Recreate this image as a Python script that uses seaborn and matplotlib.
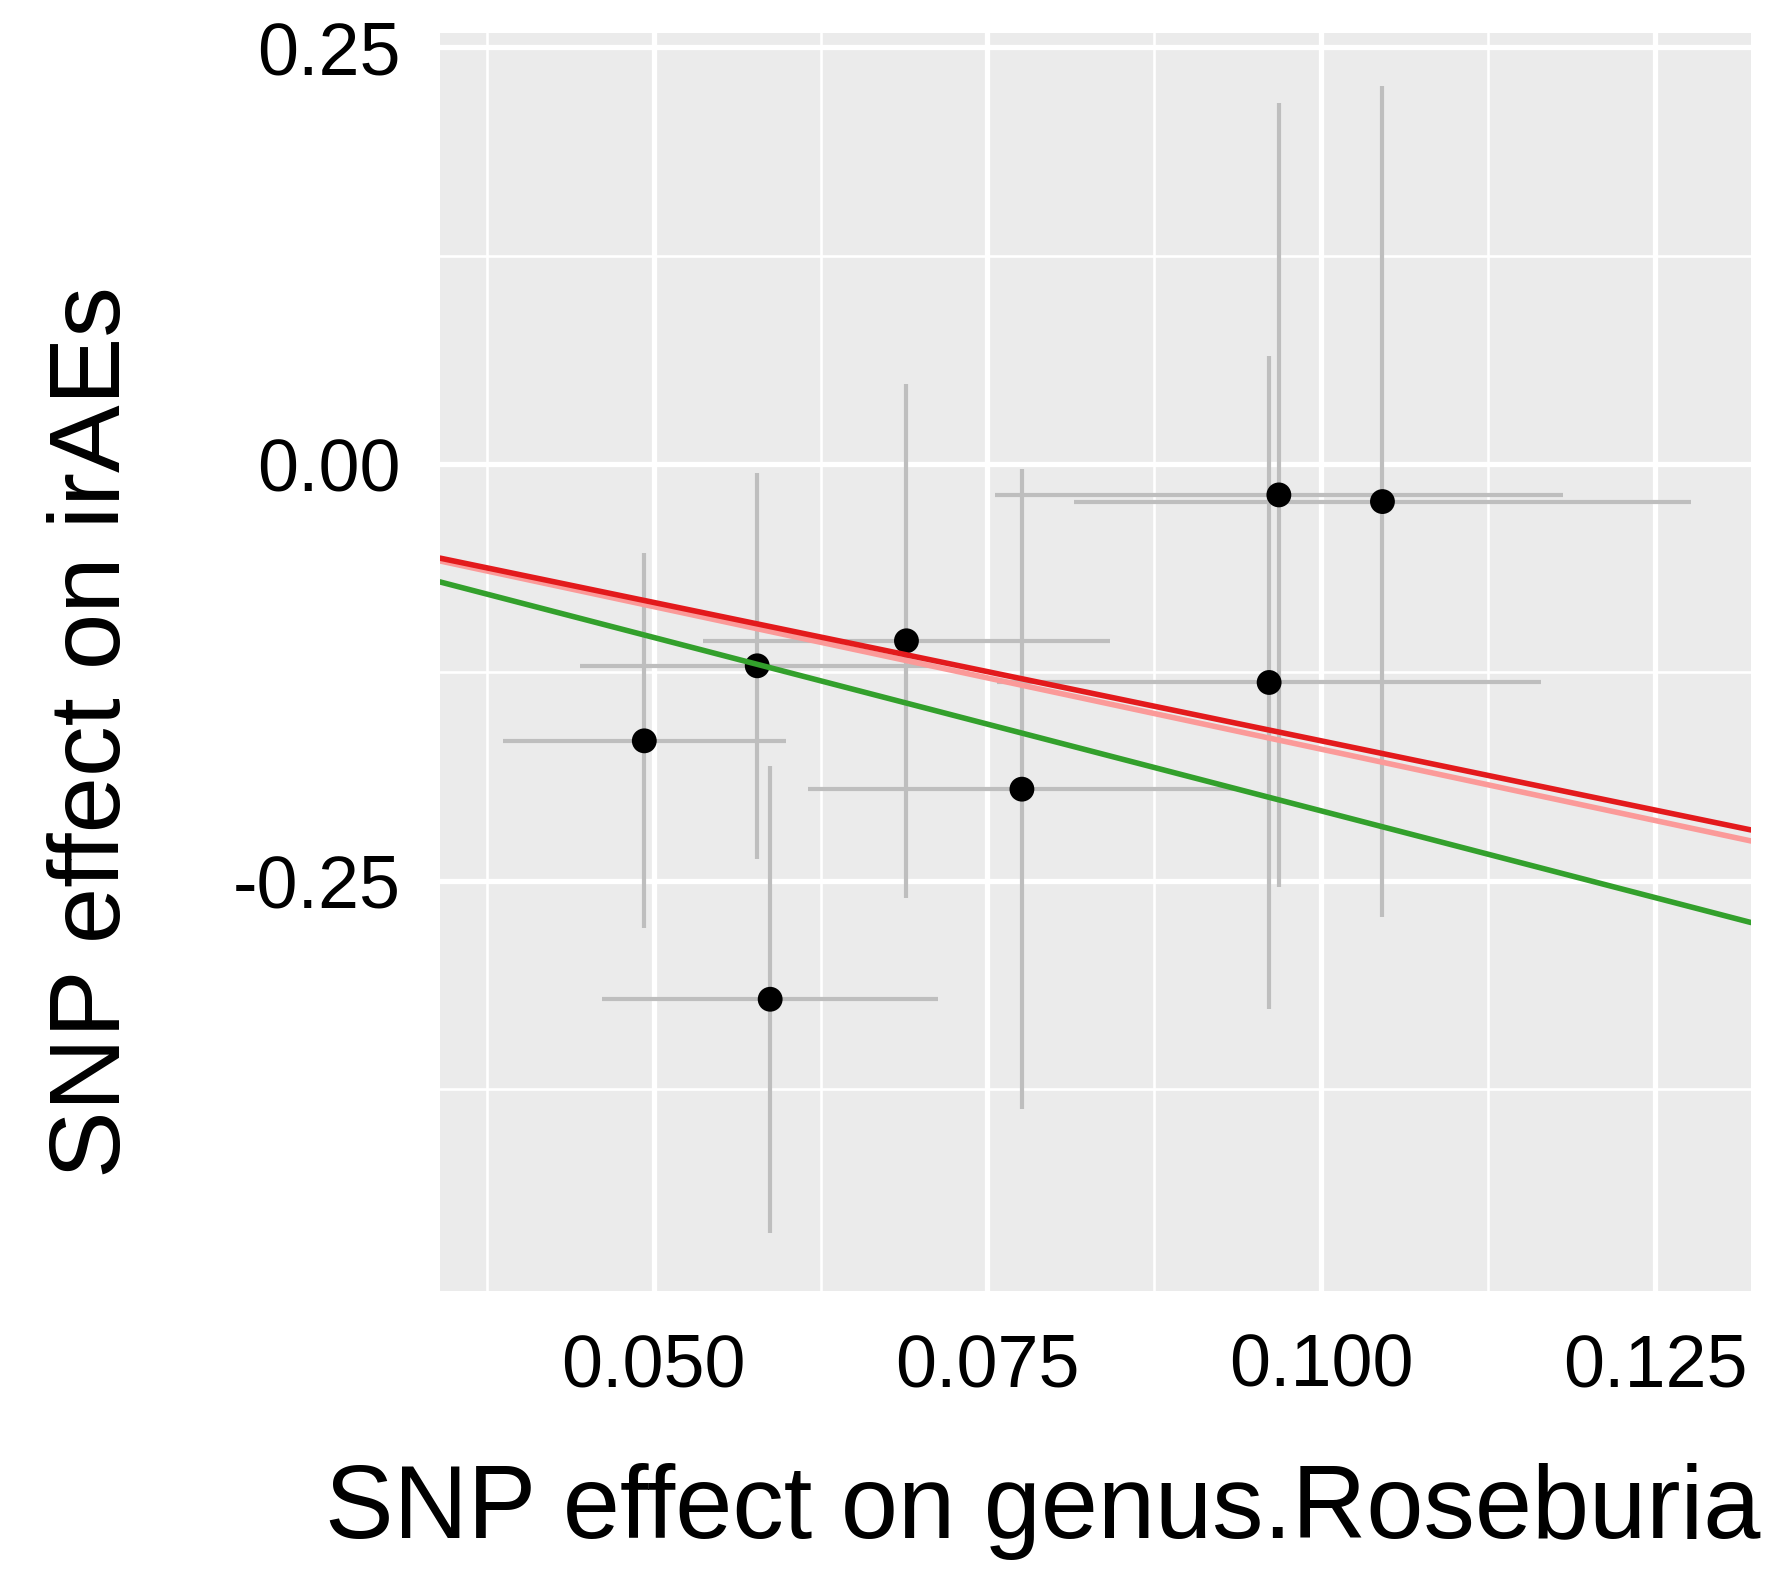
import matplotlib
matplotlib.use("Agg")
import matplotlib.pyplot as plt
import seaborn as sns
import numpy as np
import pandas as pd

# ---- data ----
snp_exposure = [0.04929, 0.05775, 0.06893, 0.07758, 0.09683, 0.10459, 0.09610, 0.05872]
snp_outcome = [-0.166, -0.121, -0.106, -0.195, -0.0185, -0.0225, -0.131, -0.321]
se_exposure = [0.0106, 0.0133, 0.01525, 0.0160, 0.0213, 0.0231, 0.0204, 0.0126]
se_outcome = [0.1125, 0.1158, 0.1543, 0.192, 0.235, 0.249, 0.196, 0.140]

methods = ["Weighted median", "Weighted mode", "Inverse variance weighted"]
method_slopes = [-2.08, -1.71, -1.66]
method_colors = ["#33a02c", "#fb9a99", "#e31a1c"]

x_ticks = [0.050, 0.075, 0.100, 0.125]
x_ticklabels = ["0.050", "0.075", "0.100", "0.125"]
y_ticks = [0.25, 0.00, -0.25]
y_ticklabels = ["0.25", "0.00", "-0.25"]

df = pd.DataFrame({"bx": snp_exposure, "by": snp_outcome,
                   "sx": se_exposure, "sy": se_outcome})

sns.set_theme(style="darkgrid")
plt.rcParams["font.family"] = ["Liberation Sans", "DejaVu Sans"]

fig = plt.figure(figsize=(17.84, 15.75), dpi=100)
ax = fig.add_axes([0.2466, 0.1803, 0.7349, 0.7987])
ax.set_facecolor("#EBEBEB")

ax.set_xlim(0.03398, 0.1322)
ax.set_ylim(-0.496, 0.2585)

# grid
ax.set_xticks(x_ticks)
ax.set_yticks(y_ticks)
ax.set_xticks([0.0375, 0.0625, 0.0875, 0.1125], minor=True)
ax.set_yticks([0.125, -0.125, -0.375], minor=True)
ax.grid(which="major", color="white", linewidth=3.8)
ax.grid(which="minor", color="white", linewidth=1.9)
ax.set_axisbelow(True)

# error bars
ax.errorbar(df["bx"], df["by"], yerr=df["sy"], fmt="none",
            ecolor="#BEBEBE", elinewidth=3.0, capsize=0, zorder=2)
ax.errorbar(df["bx"], df["by"], xerr=df["sx"], fmt="none",
            ecolor="#BEBEBE", elinewidth=3.0, capsize=0, zorder=2)

sns.scatterplot(data=df, x="bx", y="by", color="black", s=320,
                edgecolor="none", ax=ax, zorder=3)

for m, b, c in zip(methods, method_slopes, method_colors):
    ax.axline((0, 0), slope=b, color=c, linewidth=4.0, zorder=4, label=m)

for s in ax.spines.values():
    s.set_visible(False)

ax.set_xticklabels(x_ticklabels)
ax.set_yticklabels(y_ticklabels)
ax.tick_params(axis="both", which="major", length=14, width=2.4,
               color="#333333", labelsize=53, labelcolor="black")
ax.tick_params(axis="x", pad=16)
ax.tick_params(axis="y", pad=14)
ax.tick_params(which="minor", length=0)

ax.set_xlabel("SNP effect on genus.Roseburia", fontsize=74, labelpad=44, color="black")
ax.set_ylabel("SNP effect on irAEs", fontsize=73, labelpad=66, color="black")
ax.xaxis.label.set_x(0.46)
ax.yaxis.label.set_y(0.4446)

fig.savefig("out.png", dpi=100, facecolor="white")
